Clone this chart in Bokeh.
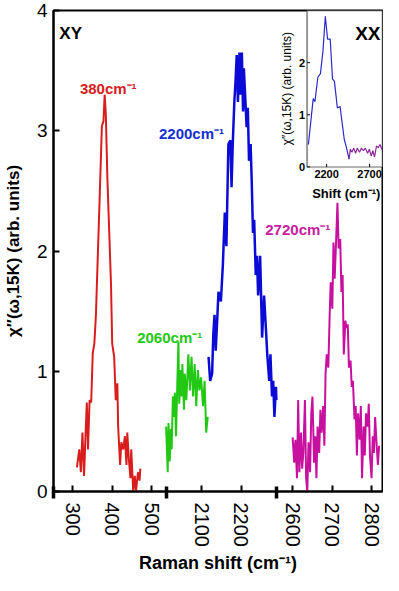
import math
from bokeh.plotting import figure
from bokeh.models import FixedTicker, Label, Range1d, BoxAnnotation
from bokeh.embed import file_html
from bokeh.resources import INLINE

# ---------------- data ----------------
red_x = [311, 317, 321, 325, 329, 333, 336, 339, 343, 347, 351, 355, 359, 364, 368, 374, 378, 381,
         384, 388, 392, 397, 400, 405, 409, 413, 415, 420, 423, 428, 432, 436, 438, 442, 446, 448,
         453, 457, 460, 465, 469, 471]
red_y = [0.20, 0.35, 0.16, 0.49, 0.13, 0.49, 0.74, 0.35, 0.76, 0.74, 1.15, 1.23, 1.47, 1.99, 2.40,
         3.04, 3.08, 3.30, 3.13, 2.59, 2.21, 1.72, 1.23, 1.12, 0.76, 0.90, 0.54, 0.22, 0.41, 0.35,
         0.46, 0.22, 0.49, 0.27, 0.11, 0.35, 0.00, 0.13, 0.00, 0.16, 0.09, 0.19]

green_x = [2010, 2014, 2016, 2019, 2022, 2024, 2027, 2030, 2032, 2035, 2038, 2041, 2043, 2047, 2049,
           2051, 2055, 2057, 2061, 2066, 2070, 2074, 2078, 2082, 2086, 2090, 2094, 2098, 2103, 2107,
           2111, 2115]
green_y = [0.54, 0.16, 0.57, 0.25, 0.52, 0.35, 0.79, 0.62, 0.82, 0.46, 0.87, 1.25, 0.73, 1.01, 0.79,
           1.06, 0.68, 0.98, 0.76, 1.14, 0.84, 1.12, 0.79, 1.06, 0.71, 1.01, 0.84, 0.95, 0.71, 0.92,
           0.49, 0.62]

blue_x = [2117, 2121, 2126, 2129, 2132, 2135, 2139, 2142, 2148, 2153, 2158, 2162, 2167, 2172, 2175,
          2178, 2182, 2185, 2188, 2191, 2195, 2198, 2201, 2204, 2206, 2210, 2213, 2216, 2219, 2223,
          2226, 2229, 2232, 2236, 2239, 2242, 2247, 2252, 2257, 2262, 2265, 2270, 2273, 2277, 2280,
          2283, 2287, 2288]
blue_y = [1.12, 0.92, 0.98, 1.31, 1.47, 1.17, 1.44, 1.66, 1.58, 1.88, 2.32, 2.04, 2.89, 2.92, 2.53,
          2.89, 3.24, 3.41, 3.63, 3.24, 3.65, 3.30, 3.65, 3.16, 3.52, 3.24, 3.03, 3.19, 2.75, 2.89,
          2.56, 2.15, 2.26, 1.80, 1.96, 1.63, 1.96, 1.28, 1.63, 1.33, 1.14, 0.92, 1.14, 0.79, 0.92,
          0.62, 0.87, 0.76]

mag_x = [2600, 2604, 2607, 2611, 2614, 2617, 2621, 2624, 2627, 2631, 2634, 2637, 2640, 2644, 2647,
         2650, 2654, 2657, 2660, 2663, 2667, 2670, 2673, 2677, 2680, 2683, 2686, 2690, 2693, 2696,
         2700, 2703, 2706, 2710, 2713, 2716, 2720, 2723, 2726, 2729, 2733, 2736, 2739, 2742, 2746,
         2749, 2752, 2756, 2759, 2762, 2765, 2769, 2772, 2775, 2779, 2782, 2785, 2789, 2792, 2795,
         2799, 2802, 2805, 2808, 2812, 2815, 2818]
mag_y = [0.45, 0.24, 0.43, 0.11, 0.76, 0.16, 0.49, 0.19, 0.32, 0.76, 0.11, 0.00, 0.41, 0.16, 0.65,
         0.79, 0.24, 0.46, 0.11, 0.54, 0.32, 0.68, 0.49, 0.71, 0.38, 0.98, 1.14, 1.03, 1.42, 1.74,
         1.52, 2.07, 1.77, 2.12, 2.40, 2.02, 2.10, 1.66, 1.80, 1.14, 1.42, 1.36, 1.39, 1.03, 1.09,
         0.87, 0.92, 0.60, 0.71, 0.30, 0.65, 0.43, 0.71, 0.11, 0.54, 0.30, 0.65, 0.54, 0.73, 0.30,
         0.11, 0.46, 0.32, 0.62, 0.38, 0.22, 0.38]

inset_blue_x = [1988, 2044, 2064, 2098, 2128, 2158, 2185, 2211, 2242, 2268, 2291, 2325, 2356, 2405,
                2431, 2461]
inset_blue_y = [0.43, 1.31, 1.25, 1.72, 1.79, 2.23, 2.89, 2.45, 2.45, 1.69, 1.64, 1.13, 1.16, 0.53,
                0.37, 0.15]
inset_purple_x = [2461, 2476, 2495, 2515, 2537, 2556, 2583, 2606, 2628, 2651, 2677, 2697, 2719, 2738,
                  2757, 2780, 2802, 2821, 2848]
inset_purple_y = [0.15, 0.34, 0.28, 0.36, 0.26, 0.36, 0.28, 0.36, 0.31, 0.36, 0.26, 0.34, 0.21, 0.31,
                  0.19, 0.40, 0.37, 0.43, 0.32]

x_tick_values = [300, 400, 500, 2100, 2200, 2600, 2700, 2800]
y_tick_values = [0, 1, 2, 3, 4]
inset_x_ticks = [2200, 2700]
inset_y_ticks = [0, 1, 2]

# broken axis: three segments joined on one continuous coordinate
SEG2_START, SEG3_START = 2000, 2500
OFF2, OFF3 = 1474, 1745
BREAKS = [536, 814]


def brk(x):
    if x >= SEG3_START:
        return x - OFF3
    if x >= SEG2_START:
        return x - OFF2
    return x


def brk_all(xs):
    return [brk(v) for v in xs]


FONT = "Liberation Sans"
RED, GREEN, BLUE, MAG = "#d91c1c", "#22c814", "#0b0bd6", "#c8109f"

X0, X1, Y0, Y1 = 252, 1081.6, 0, 4
p = figure(width=383, height=575, x_range=Range1d(X0, X1), y_range=Range1d(Y0, Y1),
           output_backend="svg", toolbar_location=None,
           min_border_left=46, min_border_top=10, min_border_right=1, min_border_bottom=40)
p.xgrid.visible = False
p.ygrid.visible = False
p.outline_line_color = "black"
p.outline_line_width = 2
p.background_fill_color = "white"

# ---- inset placed in the upper-right corner of the frame through extra ranges ----
IX0, IX1, IY0, IY1 = 1973, 2850, 0, 3
FX = 259 / 336   # inset starts at this fraction of the frame width
FY = 330 / 489   # inset bottom at this fraction of the frame height
p.extra_x_ranges = {"ix": Range1d(IX0 - FX * (IX1 - IX0) / (1 - FX), IX1)}
p.extra_y_ranges = {"iy": Range1d(IY0 - FY * (IY1 - IY0) / (1 - FY), IY1)}
IPX = (IX1 - IX0) / 77.0  # inset data units per pixel (x)
IPY = (IY1 - IY0) / 157.0

p.line(brk_all(red_x), red_y, color=RED, line_width=2)
p.line(brk_all(green_x), green_y, color=GREEN, line_width=2)
p.line(brk_all(blue_x), blue_y, color=BLUE, line_width=2.5)
p.line(brk_all(mag_x), mag_y, color=MAG, line_width=2)

xt = [brk(t) for t in x_tick_values]
# minor ticks are used as the axis-break marks
p.xaxis.ticker = FixedTicker(ticks=xt, minor_ticks=[X0] + BREAKS)
p.xaxis.major_label_overrides = {brk(t): str(t) for t in x_tick_values}
p.yaxis.ticker = FixedTicker(ticks=y_tick_values)
for ax in (p.xaxis[0], p.yaxis[0]):
    ax.axis_line_width = 2
    ax.major_tick_in = 6
    ax.major_tick_out = 0
    ax.major_tick_line_width = 2
    ax.major_label_text_font = FONT
    ax.major_label_text_color = "black"
    ax.axis_label_text_font = FONT
    ax.axis_label_text_font_style = "bold"
    ax.axis_label_text_color = "black"
p.yaxis.minor_tick_line_color = None
p.xaxis.minor_tick_line_color = "black"
p.xaxis.minor_tick_line_width = 3.5
p.xaxis.minor_tick_in = 5
p.xaxis.minor_tick_out = 7
p.xaxis.major_label_text_font_size = "20px"
p.yaxis.major_label_text_font_size = "19px"
p.xaxis.major_label_orientation = "vertical"
p.xaxis.major_label_standoff = 4
p.xaxis.axis_label = "Raman shift (cm\u207b\u00b9)"
p.xaxis.axis_label_text_font_size = "18px"
p.xaxis.axis_label_standoff = 3
p.yaxis.major_label_standoff = 6
p.yaxis.axis_label = "\u03c7\u2033(\u03c9,15K) (arb. units)"
p.yaxis.axis_label_text_font_size = "17px"
p.yaxis.axis_label_standoff = 11

peak_labels = [
    (390, 3.35, "380cm\u207b\u00b9", RED),
    (545, 1.28, "2060cm\u207b\u00b9", GREEN),
    (600, 2.98, "2200cm\u207b\u00b9", "#1530d0"),
    (868, 2.18, "2720cm\u207b\u00b9", "#c8209f"),
]
for lx, ly, txt, col in peak_labels:
    p.add_layout(Label(x=lx, y=ly, text=txt, text_font=FONT, text_font_style="bold",
                       text_font_size="15px", text_align="center", text_baseline="alphabetic",
                       text_color=col))
p.add_layout(Label(x=266.8, y=3.805, text="XY", text_font=FONT, text_font_style="bold",
                   text_font_size="17px", text_align="left", text_baseline="alphabetic",
                   text_color="black"))

# inset frame
p.add_layout(BoxAnnotation(left=IX0, right=IX1, bottom=IY0, top=IY1, x_range_name="ix",
                           y_range_name="iy", fill_color="white", fill_alpha=1.0,
                           line_color="black", line_width=2, level="underlay"))
IR = dict(x_range_name="ix", y_range_name="iy")
p.segment(x0=[IX0], y0=[IY0], x1=[IX0], y1=[IY1], line_color="#8a8a8a", line_width=1.2, **IR)
p.line(inset_blue_x, inset_blue_y, color="#2a2acc", line_width=1.2, **IR)
p.line(inset_purple_x, inset_purple_y, color="#8a2a9a", line_width=1.2, **IR)
# inset ticks (inward)
p.segment(x0=[IX0] * len(inset_y_ticks), y0=inset_y_ticks,
          x1=[IX0 + 3 * IPX] * len(inset_y_ticks), y1=inset_y_ticks,
          line_color="black", line_width=1, **IR)
p.segment(x0=inset_x_ticks, y0=[IY0] * len(inset_x_ticks),
          x1=inset_x_ticks, y1=[IY0 + 3 * IPY] * len(inset_x_ticks),
          line_color="black", line_width=1, **IR)
for t in inset_y_ticks:
    p.add_layout(Label(x=IX0, y=t, text=str(t), x_offset=-2, text_font=FONT,
                       text_font_style="bold", text_font_size="11px", text_align="right",
                       text_baseline="middle", text_color="black", **IR))
for t in inset_x_ticks:
    p.add_layout(Label(x=t, y=IY0, text=str(t), y_offset=-3, text_font=FONT,
                       text_font_style="bold", text_font_size="11px", text_align="center",
                       text_baseline="top", text_color="black", **IR))
p.add_layout(Label(x=IX0 + 40 * IPX, y=IY0, text="Shift (cm\u207b\u00b9)", y_offset=-19,
                   text_font=FONT, text_font_style="bold", text_font_size="13px",
                   text_align="center", text_baseline="top", text_color="black", **IR))
p.add_layout(Label(x=IX0, y=(IY0 + IY1) / 2, text="\u03c7\u2033(\u03c9,15K) (arb. units)",
                   x_offset=-20, angle=math.pi / 2, text_font=FONT, text_font_size="12px",
                   text_align="center", text_baseline="middle", text_color="black", **IR))
p.add_layout(Label(x=IX1, y=IY1, text="XX", x_offset=-2, y_offset=-23, text_font=FONT,
                   text_font_style="bold", text_font_size="19px", text_align="right",
                   text_baseline="alphabetic", text_color="black", **IR))

open("out.html", "w").write(file_html(p, INLINE))
